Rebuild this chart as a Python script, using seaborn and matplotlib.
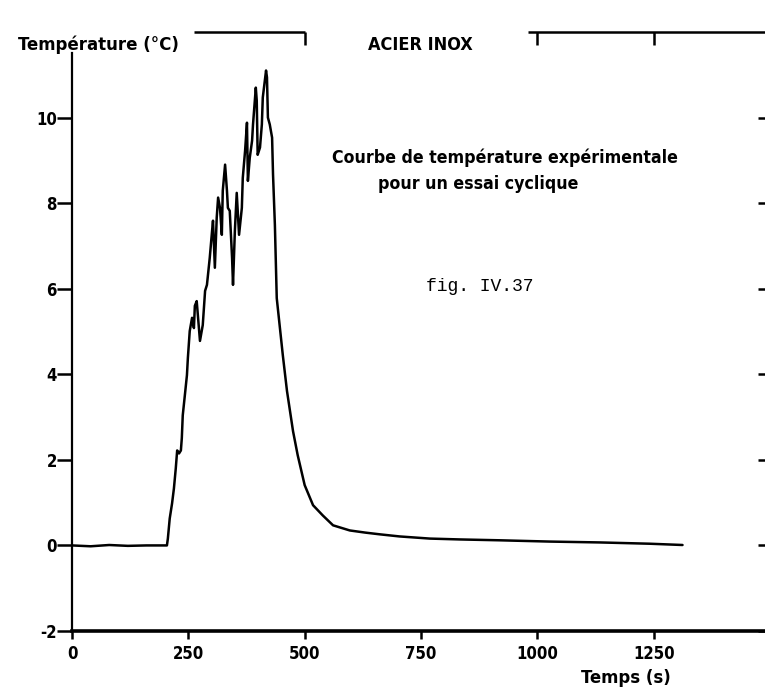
import numpy as np
import pandas as pd
import matplotlib
matplotlib.use("Agg")
import matplotlib.pyplot as plt
import matplotlib.font_manager as fm
import seaborn as sns

# ---- data ----
time_s = [0, 40, 80, 120, 160, 204,
          206, 210, 215, 219, 223, 226, 230, 234, 236, 238, 243, 247, 249, 253,
          258, 262, 264, 268, 275, 281, 286, 290, 296, 301, 303, 307, 311, 314,
          318, 322, 324, 329, 333, 335, 339, 344, 346, 350, 354, 359, 365, 367,
          372, 376, 378, 382, 387, 389, 395, 397, 399, 404, 408, 410, 417, 419,
          421, 425, 430, 432, 436, 440, 453, 462, 475, 485, 500, 518, 539, 561,
          597, 630, 661, 704, 769, 833, 919, 1027, 1134, 1241, 1312]
temp_c = [0.0, -0.02, 0.01, -0.01, 0.0, 0.0,
          0.16, 0.63, 0.98, 1.33, 1.80, 2.22, 2.15, 2.22, 2.51, 3.04, 3.56, 3.98, 4.38, 5.01,
          5.32, 5.08, 5.60, 5.71, 4.78, 5.15, 5.95, 6.09, 6.72, 7.35, 7.59, 6.49, 7.66, 8.13,
          7.89, 7.26, 8.29, 8.90, 8.29, 7.89, 7.82, 6.72, 6.09, 7.35, 8.24, 7.26, 7.89, 8.59,
          9.23, 9.88, 8.52, 9.06, 9.46, 9.84, 10.70, 10.40, 9.13, 9.30, 9.84, 10.47, 11.10, 10.94,
          10.00, 9.84, 9.53, 8.67, 7.49, 5.78, 4.45, 3.61, 2.67, 2.11, 1.41, 0.94, 0.70, 0.47,
          0.35, 0.30, 0.26, 0.21, 0.16, 0.14, 0.12, 0.09, 0.07, 0.04, 0.01]

x_ticks = [0, 250, 500, 750, 1000, 1250]
x_tick_labels = ["0", "250", "500", "750", "1000", "1250"]
y_ticks = [-2, 0, 2, 4, 6, 8, 10]
y_tick_labels = ["-2", "0", "2", "4", "6", "8", "10"]
top_ticks = [500, 1000, 1250]

df = pd.DataFrame({"t": time_s, "T": temp_c})

sns.set_theme(style="white")
plt.rcParams["font.family"] = ["DejaVu Sans"]

# choose a narrow bold face if one exists
names = {f.name for f in fm.fontManager.ttflist}
if "Liberation Sans Narrow" in names:
    NARROW = dict(family="Liberation Sans Narrow", fontweight="bold")
elif any(f.name == "DejaVu Sans" and "condensed" in str(f.stretch).lower()
         for f in fm.fontManager.ttflist):
    NARROW = dict(family="DejaVu Sans", fontweight="bold", fontstretch="condensed")
else:
    NARROW = dict(family="DejaVu Sans", fontweight="bold")

W, H = 765, 699
fig = plt.figure(figsize=(W / 100, H / 100), dpi=100)
fig.patch.set_facecolor("white")
ax = fig.add_axes([72 / W, 1 - 631 / H, (770 - 72) / W, (631 - 32) / H])
ax.set_facecolor("white")

sns.lineplot(data=df, x="t", y="T", ax=ax, color="black", linewidth=1.8,
             estimator=None, sort=False)

ax.set_xlim(0, 1500)
ax.set_ylim(-2, 12)
ax.set_xlabel("")
ax.set_ylabel("")
ax.set_xticks(x_ticks)
ax.set_xticklabels(x_tick_labels)
ax.set_yticks(y_ticks)
ax.set_yticklabels(y_tick_labels)

for s in ["top", "right"]:
    ax.spines[s].set_visible(False)
ax.spines["left"].set_linewidth(1.6)
ax.spines["left"].set_bounds(-2, 11.5)
ax.spines["bottom"].set_linewidth(2.6)
for s in ["left", "bottom"]:
    ax.spines[s].set_color("black")

ax.tick_params(axis="y", direction="out", length=11, width=1.8, pad=0,
               colors="black", left=True, labelsize=12)
ax.tick_params(axis="x", direction="out", length=6, width=1.8, pad=4,
               colors="black", bottom=True, labelsize=12)
for lab in ax.get_xticklabels() + ax.get_yticklabels():
    lab.set_family(NARROW["family"])
    lab.set_fontweight("bold")
    if "fontstretch" in NARROW:
        lab.set_fontstretch(NARROW["fontstretch"])

# right-side inward ticks
sec_y = ax.secondary_yaxis("right")
sec_y.set_yticks(y_ticks)
sec_y.tick_params(direction="in", length=9, width=1.8, labelright=False, colors="black")
sec_y.spines["right"].set_visible(False)

# top axis: broken line with inward ticks
ax.hlines([12, 12], [262, 980], [500, 1500], colors="black", linewidth=1.8,
          clip_on=False)
sec_x = ax.secondary_xaxis("top")
sec_x.set_xticks(top_ticks)
sec_x.tick_params(direction="in", length=9, width=1.8, labeltop=False, colors="black")
sec_x.spines["top"].set_visible(False)


def put(txt, x_px, y_px, size, ha="center", **kw):
    return fig.text(x_px / W, 1 - y_px / H, txt, ha=ha, va="center", fontsize=size,
                    color="black", **kw)


put("Température (°C)", 18, 45, 13.3, ha="left", **NARROW)
put("ACIER INOX", 420, 45, 13.0, **NARROW)
put("Courbe de température expérimentale", 505, 158, 12.7, **NARROW)
put("pour un essai cyclique", 478, 184, 12.7, **NARROW)
put("fig. IV.37", 480, 287, 13, family="Liberation Mono")
put("Temps (s)", 626, 678, 13.2, **NARROW)

fig.savefig("out.png", dpi=100, facecolor="white")
